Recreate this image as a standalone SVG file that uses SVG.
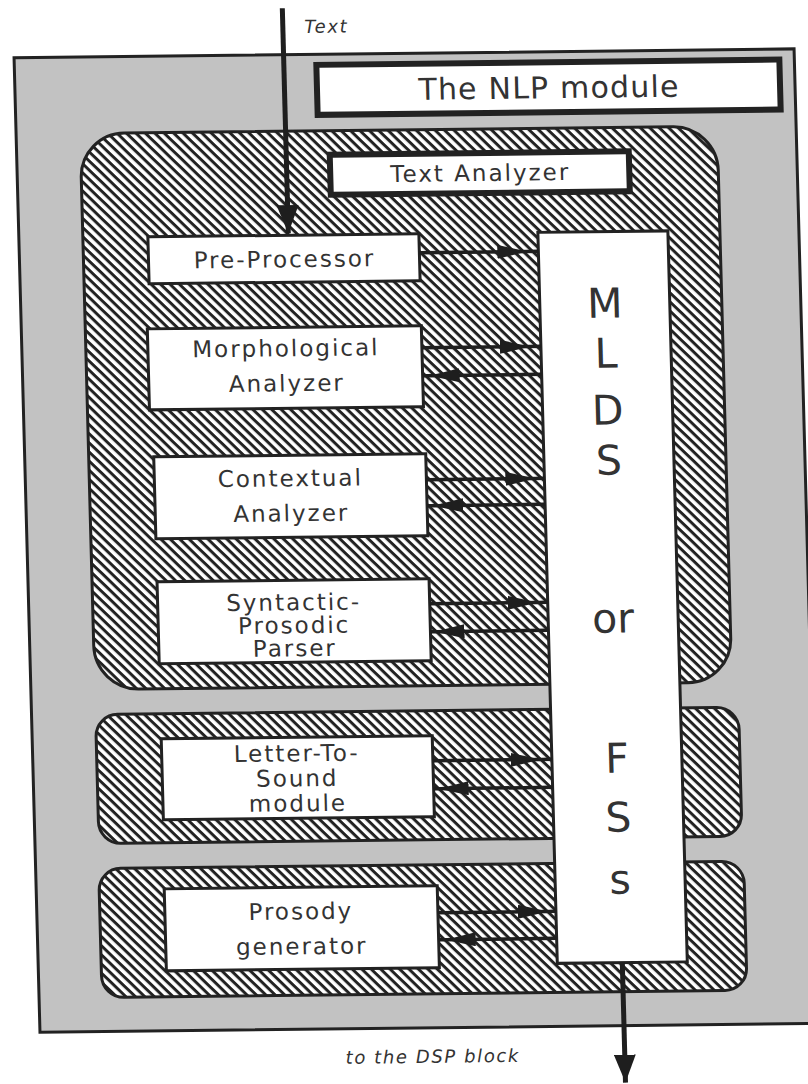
<svg xmlns="http://www.w3.org/2000/svg" width="808" height="1084" viewBox="0 0 808 1084">
  <style>
    .frame { fill: #c2c2c2; stroke: #222; stroke-width: 3; }
    .region { fill: url(#hatch); stroke: #222; stroke-width: 3; }
    .box { fill: #fff; stroke: #222; stroke-width: 3; }
    .thick { fill: #fff; stroke: #222; stroke-width: 6; }
    .lbl { font-family: "DejaVu Sans", "Liberation Sans", sans-serif; font-size: 23px; letter-spacing: 2px; text-anchor: middle; fill: #333; }
    .big { font-family: "DejaVu Sans", "Liberation Sans", sans-serif; font-size: 41px; text-anchor: middle; fill: #333; }
    .ital { font-family: "DejaVu Sans", "Liberation Sans", sans-serif; font-size: 18px; font-style: italic; letter-spacing: 1.6px; fill: #333; }
    .conn { fill: none; stroke: #1e1e1e; stroke-width: 3.5; }
    .io { fill: none; stroke: #1e1e1e; stroke-width: 5; }
  </style>
  <defs>
    <pattern id="hatch" patternUnits="userSpaceOnUse" width="10" height="6.6" patternTransform="rotate(45)">
      <rect width="10" height="6.6" fill="#fff"/>
      <rect y="0" width="10" height="3" fill="#222"/>
    </pattern>
    <marker id="ah" viewBox="0 0 30 14" refX="30" refY="7" markerWidth="30" markerHeight="14" markerUnits="userSpaceOnUse" orient="auto">
      <path d="M0,0 L30,7 L0,14 Z" fill="#1e1e1e"/>
    </marker>
    <marker id="ahBig" viewBox="0 0 28 22" refX="28" refY="11" markerWidth="28" markerHeight="22" markerUnits="userSpaceOnUse" orient="auto">
      <path d="M0,0 L28,11 L0,22 Z" fill="#1e1e1e"/>
    </marker>
  </defs>
  <rect width="808" height="1084" fill="#fff"/>
  <g transform="matrix(1 -0.0115 0.0266 1 -14.364 4.646)">
    <g id="nlp-module">
      <rect class="frame" x="27" y="53.5" width="780" height="974.5"/>
      <rect class="thick" x="329" y="64" width="463" height="50"/>
      <text class="lbl" x="561" y="100" style="font-size:30px;letter-spacing:1.2px">The NLP module</text>
    </g>
    <g id="text-analyzer">
      <rect class="region" x="91" y="130" width="637" height="556" rx="44" ry="44"/>
      <rect class="thick" x="340" y="154" width="299" height="40"/>
      <text class="lbl" x="490" y="182">Text Analyzer</text>
    </g>
    <g id="letter-to-sound-region">
      <rect class="region" x="91" y="711" width="643" height="129" rx="22" ry="22"/>
    </g>
    <g id="prosody-region">
      <rect class="region" x="90" y="865" width="645" height="129" rx="22" ry="22"/>
    </g>
    <g id="mlds">
      <rect class="box" x="546" y="234" width="130" height="731"/>
      <text class="big" x="611" y="320">M</text>
      <text class="big" x="611" y="370">L</text>
      <text class="big" x="611" y="427">D</text>
      <text class="big" x="611" y="477">S</text>
      <text class="big" x="611" y="635">or</text>
      <text class="big" x="611" y="775">F</text>
      <text class="big" x="611" y="834">S</text>
      <text class="big" x="611" y="896">s</text>
    </g>
    <g id="pre-processor">
      <rect class="box" x="156" y="234" width="271" height="47"/>
      <text class="lbl" x="292" y="266">Pre-Processor</text>
    </g>
    <g id="morphological-analyzer">
      <rect class="box" x="153" y="326" width="274" height="81"/>
      <text class="lbl" x="291" y="355">Morphological</text>
      <text class="lbl" x="291" y="390">Analyzer</text>
    </g>
    <g id="contextual-analyzer">
      <rect class="box" x="156" y="454" width="272" height="82"/>
      <text class="lbl" x="292" y="485">Contextual</text>
      <text class="lbl" x="292" y="520">Analyzer</text>
    </g>
    <g id="syntactic-prosodic-parser">
      <rect class="box" x="156" y="579" width="272" height="82"/>
      <text class="lbl" x="292" y="609">Syntactic-</text>
      <text class="lbl" x="292" y="632">Prosodic</text>
      <text class="lbl" x="292" y="655">Parser</text>
    </g>
    <g id="letter-to-sound">
      <rect class="box" x="156" y="736" width="271" height="81"/>
      <text class="lbl" x="291" y="760">Letter-To-</text>
      <text class="lbl" x="291" y="785">Sound</text>
      <text class="lbl" x="291" y="810">module</text>
    </g>
    <g id="prosody-generator">
      <rect class="box" x="155" y="886" width="273" height="82"/>
      <text class="lbl" x="291" y="918">Prosody</text>
      <text class="lbl" x="291" y="953">generator</text>
    </g>
    <g id="connectors">
      <path class="conn" marker-mid="url(#ah)" d="M427,253 L535,253 L546,253"/>
      <path class="conn" marker-mid="url(#ah)" d="M427,348 L535,348 L546,348"/>
      <path class="conn" marker-mid="url(#ah)" d="M546,376 L434,376 L427,376"/>
      <path class="conn" marker-mid="url(#ah)" d="M428,480 L537,480 L546,480"/>
      <path class="conn" marker-mid="url(#ah)" d="M546,506 L434,506 L428,506"/>
      <path class="conn" marker-mid="url(#ah)" d="M428,604 L536,604 L546,604"/>
      <path class="conn" marker-mid="url(#ah)" d="M546,632 L432,632 L428,632"/>
      <path class="conn" marker-mid="url(#ah)" d="M427,761 L535,761 L546,761"/>
      <path class="conn" marker-mid="url(#ah)" d="M546,789 L432,789 L427,789"/>
      <path class="conn" marker-mid="url(#ah)" d="M428,913 L538,913 L546,913"/>
      <path class="conn" marker-mid="url(#ah)" d="M546,940 L435,940 L428,940"/>
      <path class="io" marker-end="url(#ahBig)" d="M296.5,7 L296.5,232"/>
      <path class="io" marker-end="url(#ahBig)" d="M611,965 L611,1085"/>
      <text class="ital" x="318" y="32">Text</text>
      <text class="ital" x="419" y="1063" text-anchor="middle">to the DSP block</text>
    </g>
  </g>
</svg>
